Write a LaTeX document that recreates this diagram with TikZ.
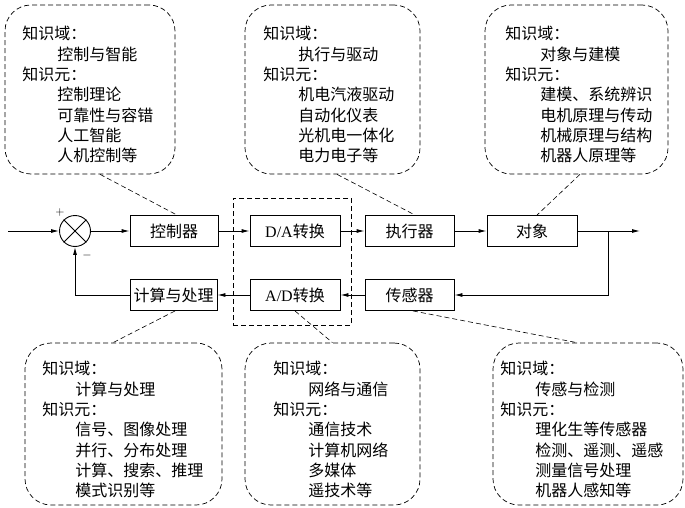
\documentclass[tikz,border=0pt]{standalone}
\usepackage{fontspec}
\newfontfamily\cjk{Noto Sans CJK SC}
\newfontfamily\latinrm{Liberation Serif}
\usetikzlibrary{arrows.meta,calc}
\begin{document}
\begin{tikzpicture}[x=1pt,y={(0,-1pt)},
  line width=0.9pt,
  >={Latex[length=8pt,width=4pt]},
  blockbox/.style={draw,minimum height=31pt,inner sep=0pt,font=\cjk\fontsize{16pt}{18pt}\selectfont},
  kbox/.style={draw,dashed,dash pattern=on 5pt off 3pt,line width=0.7pt,rounded corners=26pt,inner sep=0pt},
  ktext/.style={anchor=north west,align=left,inner sep=0pt,font=\cjk\fontsize{16pt}{20.3pt}\selectfont},
  kline/.style={dashed,dash pattern=on 5pt off 3pt,line width=0.6pt},
  sign/.style={inner sep=0pt,font=\fontsize{12pt}{13pt}\selectfont}]
\useasboundingbox (0,0) rectangle (685,508);

% blocks
\node[draw,circle,minimum size=31pt,inner sep=0pt] (sum) at (75,231) {};
\draw[line width=0.9pt] (sum.45) -- (sum.225) (sum.135) -- (sum.315);
\node[blockbox,minimum width=88pt] (ctrl) at (174,231) {控制器};
\node[blockbox,minimum width=90pt] (da) at (295,231) {{\latinrm D/A}转换};
\node[blockbox,minimum width=89pt] (act) at (409.5,231) {执行器};
\node[blockbox,minimum width=90pt] (obj) at (532,231) {对象};
\node[blockbox,minimum width=89pt] (sen) at (409.5,295) {传感器};
\node[blockbox,minimum width=90pt] (ad) at (295,295) {{\latinrm A/D}转换};
\node[blockbox,minimum width=87pt] (comp) at (173.5,295) {计算与处理};
\node[draw,kline,minimum width=118pt,minimum height=127pt,inner sep=0pt] (dabox) at (292,261.5) {};

\node[sign] (plus) at (60,213) {+};
\node[sign] (minus) at (87,255) {$-$};

\coordinate (in) at (8,231);
\coordinate (out) at (640,231);
\coordinate (br) at (608,231);

\draw[->] (in) -- (sum.west);
\draw[->] (sum.east) -- (ctrl.west);
\draw[->] (ctrl.east) -- (da.west);
\draw[->] (da.east) -- (act.west);
\draw[->] (act.east) -- (obj.west);
\draw[->] (obj.east) -- (out);
\draw[->] (br) |- (sen.east);
\draw[->] (sen.west) -- (ad.east);
\draw[->] (ad.west) -- (comp.east);
\draw[->] (comp.west) -| (sum.south);

% knowledge boxes
\node[kbox,minimum width=170pt,minimum height=169pt] (k1) at (90,89.5) {};
\node[kbox,minimum width=175pt,minimum height=169pt] (k2) at (332.5,89.5) {};
\node[kbox,minimum width=183pt,minimum height=169pt] (k3) at (576.5,89.5) {};
\node[kbox,minimum width=197pt,minimum height=162pt] (k4) at (123.5,424) {};
\node[kbox,minimum width=175pt,minimum height=162pt] (k5) at (332.5,424) {};
\node[kbox,minimum width=190pt,minimum height=162pt] (k6) at (588,424) {};

\node[ktext] (t1) at (22,26) {知识域：\\\hspace*{35pt}控制与智能\\知识元：\\\hspace*{35pt}控制理论\\\hspace*{35pt}可靠性与容错\\\hspace*{35pt}人工智能\\\hspace*{35pt}人机控制等};
\node[ktext] (t2) at (263,26) {知识域：\\\hspace*{35pt}执行与驱动\\知识元：\\\hspace*{35pt}机电汽液驱动\\\hspace*{35pt}自动化仪表\\\hspace*{35pt}光机电一体化\\\hspace*{35pt}电力电子等};
\node[ktext] (t3) at (505,26) {知识域：\\\hspace*{35pt}对象与建模\\知识元：\\\hspace*{35pt}建模、系统辨识\\\hspace*{35pt}电机原理与传动\\\hspace*{35pt}机械原理与结构\\\hspace*{35pt}机器人原理等};
\node[ktext] (t4) at (42,361) {知识域：\\\hspace*{33pt}计算与处理\\知识元：\\\hspace*{33pt}信号、图像处理\\\hspace*{33pt}并行、分布处理\\\hspace*{33pt}计算、搜索、推理\\\hspace*{33pt}模式识别等};
\node[ktext] (t5) at (273,361) {知识域：\\\hspace*{35pt}网络与通信\\知识元：\\\hspace*{35pt}通信技术\\\hspace*{35pt}计算机网络\\\hspace*{35pt}多媒体\\\hspace*{35pt}遥技术等};
\node[ktext] (t6) at (500,361) {知识域：\\\hspace*{35pt}传感与检测\\知识元：\\\hspace*{35pt}理化生等传感器\\\hspace*{35pt}检测、遥测、遥感\\\hspace*{35pt}测量信号处理\\\hspace*{35pt}机器人感知等};

% dashed links
\draw[kline] ($(k1.south)+(10,0)$) -- ($(ctrl.north)+(3,0)$);
\draw[kline] ($(k2.south)+(4.5,0)$) -- ($(act.north)+(5.5,0)$);
\draw[kline] ($(k3.south)+(3.5,0)$) -- ($(obj.north)+(5,0)$);
\draw[kline] ($(comp.south)+(1.5,0)$) -- ($(k4.north)+(-10.5,0)$);
\draw[kline] (ad.south) -- (k5.north);
\draw[kline] ($(sen.south)+(3.5,0)$) -- ($(k6.north)+(-11,0)$);
\end{tikzpicture}
\end{document}
